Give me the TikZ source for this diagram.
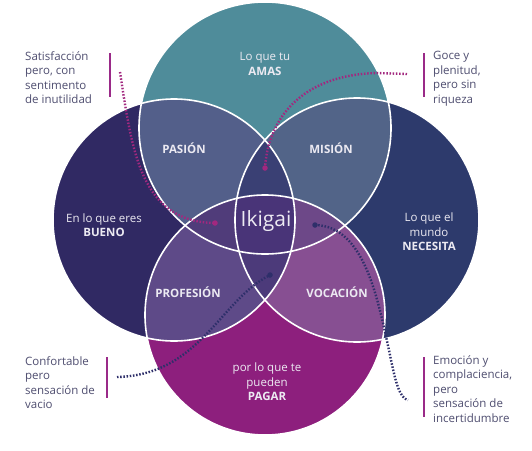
\documentclass[tikz,border=0pt]{standalone}
\usepackage{fontspec}
\setmainfont{Open Sans}
\definecolor{cTeal}{HTML}{4F8C9A}
\definecolor{cLeft}{HTML}{302963}
\definecolor{cRight}{HTML}{2D3A6C}
\definecolor{cMag}{HTML}{8D1F7D}
\definecolor{cPas}{HTML}{535F8A}
\definecolor{cMis}{HTML}{526488}
\definecolor{cPro}{HTML}{5E4A88}
\definecolor{cVoc}{HTML}{874F92}
\definecolor{cTT}{HTML}{3A4074}
\definecolor{cBT}{HTML}{4C3A7A}
\definecolor{cLT}{HTML}{503C7A}
\definecolor{cRT}{HTML}{6D4888}
\definecolor{cCen}{HTML}{493478}
\definecolor{cTxt}{HTML}{4F4E70}
\definecolor{cLbl}{HTML}{ECEAF2}
\definecolor{cBar}{HTML}{9A2A88}
\definecolor{cDotM}{HTML}{A2287F}
\definecolor{cDotN}{HTML}{2E2F6A}
\tikzset{
  annot/.style={inner sep=0pt, align=left, text=cTxt, font=\fontsize{11.5}{14.5}\selectfont},
  lbl/.style={inner sep=0pt, align=center, text=cLbl, font=\fontsize{11.5}{14.5}\selectfont},
  region/.style={inner sep=0pt, text=cLbl, font=\fontsize{11.5}{13}\selectfont\bfseries},
  bar/.style={draw=cBar, line width=2.6pt},
  dotline/.style={line width=2.4pt, dash pattern=on 1.5pt off 1.7pt},
  enddot/.style={circle, inner sep=0pt, minimum size=5.5pt},
  ring/.style={draw=white, line width=1.6pt}
}
\begin{document}
\begin{tikzpicture}[x=1pt,y=-1pt]
\useasboundingbox (0,0) rectangle (532,450);
\fill[white] (0,0) rectangle (532,450);
% base circles
\def\cT{(265,128) circle (126)}
\def\cL{(174,220) circle (121)}
\def\cR{(357,220) circle (122)}
\def\cB{(265,315) circle (120)}
\fill[cTeal] \cT;
\fill[cLeft] \cL;
\fill[cRight] \cR;
\fill[cMag] \cB;
% pairwise
\begin{scope}\clip \cT; \fill[cPas] \cL; \end{scope}
\begin{scope}\clip \cT; \fill[cMis] \cR; \end{scope}
\begin{scope}\clip \cB; \fill[cPro] \cL; \end{scope}
\begin{scope}\clip \cB; \fill[cVoc] \cR; \end{scope}
% triples
\begin{scope}\clip \cT; \clip \cL; \fill[cTT] \cR; \end{scope}
\begin{scope}\clip \cB; \clip \cL; \fill[cBT] \cR; \end{scope}
\begin{scope}\clip \cT; \clip \cB; \fill[cLT] \cL; \end{scope}
\begin{scope}\clip \cT; \clip \cB; \fill[cRT] \cR; \end{scope}
% centre
\begin{scope}\clip \cT; \clip \cB; \clip \cL; \fill[cCen] \cR; \end{scope}
% outlines
\draw[ring] \cT; \draw[ring] \cL; \draw[ring] \cR; \draw[ring] \cB;
% labels in circles
\node[lbl] (amas) at (265,64) {Lo que tu\\\textbf{AMAS}};
\node[lbl] (bueno) at (104,225) {En lo que eres\\\textbf{BUENO}};
\node[lbl] (necesita) at (429,232) {Lo que el\\mundo\\\textbf{NECESITA}};
\node[lbl] (pagar) at (267,382) {por lo que te\\pueden\\\textbf{PAGAR}};
\node[region] (pasion) at (184,148) {PASIÓN};
\node[region] (mision) at (331,148) {MISIÓN};
\node[region] (profesion) at (188,292) {PROFESIÓN};
\node[region] (vocacion) at (337,292) {VOCACIÓN};
\node[inner sep=0pt, text=cLbl, font=\fontsize{21}{24}\selectfont] (ikigai) at (266,221) {Ikigai};
% annotations
\node[annot, anchor=north west] (satis) at (25,51) {Satisfacción\\pero, con\\sentimento\\de inutilidad};
\node[annot, anchor=north west] (goce) at (433,51) {Goce y\\plenitud,\\pero sin\\riqueza};
\node[annot, anchor=north west] (confort) at (25,356) {Confortable\\pero\\sensación de\\vacio};
\node[annot, anchor=north west] (emocion) at (433,355) {Emoción y\\complaciencia,\\pero\\sensación de\\incertidumbre};
% bars
\coordinate (b1a) at (110,53); \coordinate (b1b) at (110,97);
\coordinate (b2a) at (424,53); \coordinate (b2b) at (424,97);
\coordinate (b3a) at (107,357); \coordinate (b3b) at (107,398);
\coordinate (b4a) at (424,357); \coordinate (b4b) at (424,417);
\draw[bar] (b1a) -- (b1b);
\draw[bar] (b2a) -- (b2b);
\draw[bar] (b3a) -- (b3b);
\draw[bar] (b4a) -- (b4b);
% connectors
\node[enddot, fill=cDotM] (d1) at (215,223) {};
\node[enddot, fill=cDotM] (d2) at (265,168) {};
\node[enddot, fill=cDotN] (d3) at (315,225) {};
\node[enddot, fill=cDotN] (d4) at (270,275) {};
\coordinate (s1) at (120,72);
\coordinate (s2) at (407,74);
\coordinate (s2b) at (377,73);
\coordinate (s3) at (408,400);
\coordinate (s4) at (117,377);
\draw[dotline, cDotM] (s1) .. controls (132,150) and (140,222) .. (d1.center);
\draw[dotline, cDotM] (s2) -- (s2b) .. controls (300,75) and (268,120) .. (d2.center);
\draw[dotline, cDotN] (d3.center) .. controls (365,226) and (378,300) .. (390,355) .. controls (396,385) and (400,398) .. (s3);
\draw[dotline, cDotN] (s4) .. controls (200,375) and (220,300) .. (d4.center);
\end{tikzpicture}
\end{document}
